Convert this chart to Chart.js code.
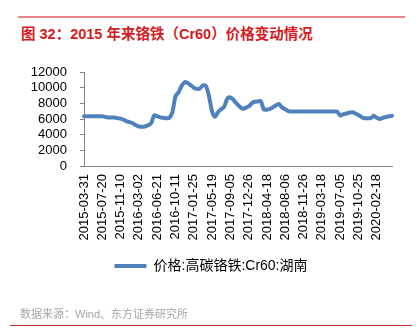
<!DOCTYPE html>
<html>
<head>
<meta charset="utf-8">
<script src="https://cdn.jsdelivr.net/npm/chart.js@4/dist/chart.umd.min.js"></script>
<style>
  body { margin: 0; background: #fff; }
  #wrap { position: relative; width: 416px; height: 335px; font-family: "Liberation Sans", "Noto Sans CJK SC", sans-serif; }
  #myChart { position: absolute; left: 0; top: 0; }
  .rule-top { position: absolute; left: 18px; top: 16px; width: 387px; height: 2px; background: #e98585; }
  .title { position: absolute; left: 21px; top: 22px; font-size: 14.5px; font-weight: bold; color: #d41c24; white-space: nowrap; }
  .source { position: absolute; left: 20px; top: 305px; font-size: 11px; color: #a6a6a6; white-space: nowrap; }
  .rule-bottom { position: absolute; left: 10px; top: 325px; width: 402px; height: 1px; background: #c8312a; }
</style>
</head>
<body>
<div id="wrap">
  <div class="rule-top"></div>
  <div class="title">图 32：2015 年来铬铁（Cr60）价格变动情况</div>
  <canvas id="myChart" width="416" height="335"></canvas>
  <div class="source">数据来源：Wind、东方证券研究所</div>
  <div class="rule-bottom"></div>
</div>
<script>
// labelled dates on the x axis, one every 6 points
const tickLabels = [
    '2015-03-31', '2015-07-20', '2015-11-10', '2016-03-02', '2016-06-21',
    '2016-10-11', '2017-01-25', '2017-05-19', '2017-09-05', '2017-12-26',
    '2018-04-18', '2018-08-06', '2018-11-26', '2019-03-18', '2019-07-05',
    '2019-10-25', '2020-02-18'
];
const step = 6;

// 高碳铬铁 Cr60 湖南 price, yuan/ton
const prices = [
    6350, 6350, 6350, 6350, 6350, 6350, 6350, 6250, 6200, 6200,
    6200, 6100, 6050, 5900, 5700, 5600, 5450, 5200, 5050, 5000,
    5050, 5200, 5450, 6450, 6350, 6200, 6150, 6100, 6150, 6900,
    8900, 9400, 10200, 10700, 10600, 10300, 10000, 9850, 9900, 10300,
    10200, 8900, 6950, 6300, 6900, 7250, 7600, 8600, 8750, 8450,
    8000, 7600, 7300, 7450, 7600, 8000, 8200, 8250, 8250, 7200,
    7200, 7300, 7500, 7750, 7900, 7450, 7250, 7000, 6950, 6950,
    6950, 6950, 6950, 6950, 6950, 6950, 6950, 6950, 6950, 6950,
    6950, 6950, 6950, 6950, 6450, 6600, 6700, 6800, 6850, 6700,
    6500, 6250, 6100, 6100, 6100, 6400, 6150, 6000, 6150, 6250,
    6350, 6400
];

const categories = prices.map((v, i) => (i % step === 0 ? tickLabels[i / step] || '' : ''));

const axisColor = '#868686';
const ctx = document.querySelector('#myChart');
const myChart = new Chart(ctx, {
    type: 'line',
    data: {
        labels: categories,
        datasets: [
            {
                label: '价格:高碳铬铁:Cr60:湖南',
                data: prices,
                borderColor: '#4f81bd',
                backgroundColor: '#4f81bd',
                borderWidth: 4,
                pointRadius: 0,
                tension: 0.3,
                borderCapStyle: 'round',
                borderJoinStyle: 'round'
            }
        ]
    },
    options: {
        responsive: false,
        animation: false,
        layout: {
            padding: { top: 72, left: 30, right: 24, bottom: 52 }
        },
        plugins: {
            tooltip: { enabled: false },
            legend: {
                position: 'bottom',
                labels: {
                    usePointStyle: true,
                    pointStyle: 'line',
                    pointStyleWidth: 32,
                    padding: 13,
                    color: '#000',
                    font: { size: 14, family: '"Liberation Sans", "Noto Sans CJK SC", sans-serif' }
                }
            }
        },
        scales: {
            x: {
                grid: { display: false, drawTicks: false },
                border: { display: true, color: axisColor, width: 1 },
                ticks: {
                    autoSkip: false,
                    minRotation: 90,
                    maxRotation: 90,
                    padding: 8,
                    color: '#000',
                    font: { size: 13, family: '"Liberation Sans", sans-serif' }
                },
                afterFit: function (scale) {
                    scale.height = 80;
                }
            },
            y: {
                min: 0,
                max: 12000,
                grid: { drawOnChartArea: false, drawTicks: true, tickLength: 4, color: axisColor },
                border: { display: true, color: axisColor, width: 1 },
                ticks: {
                    stepSize: 2000,
                    autoSkip: false,
                    padding: 13,
                    color: '#000',
                    font: { size: 13, family: '"Liberation Sans", sans-serif' },
                    callback: function (value) {
                        return String(value);
                    }
                },
                afterFit: function (scale) {
                    scale.width = 54;
                }
            }
        }
    }
});
</script>
</body>
</html>
